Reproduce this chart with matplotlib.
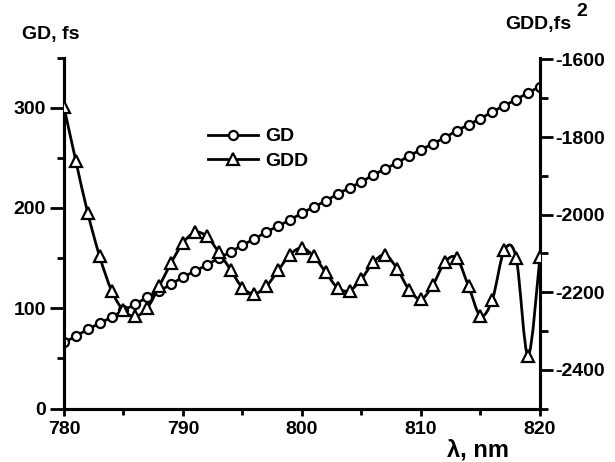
import numpy as np
import matplotlib
matplotlib.use("Agg")
import matplotlib.pyplot as plt
from matplotlib.path import Path
from matplotlib.patches import PathPatch
from matplotlib.lines import Line2D
from matplotlib.ticker import MultipleLocator

plt.rcParams['font.family'] = ['Liberation Sans', 'DejaVu Sans']
plt.rcParams['font.weight'] = 'bold'
plt.rcParams['axes.unicode_minus'] = False

# wavelength, nm
wl = list(range(780, 821))

# group delay, fs
gd = [66, 72, 79, 85, 91, 98, 104, 111, 117, 124,
      131, 137, 143, 150, 156, 163, 169, 176, 182, 188,
      195, 201, 207, 214, 220, 226, 233, 239, 245, 252,
      258, 264, 270, 277, 283, 289, 296, 302, 308, 315, 321]

# group delay dispersion, fs^2
gdd = [-1722, -1862, -1996, -2108, -2196, -2247, -2262, -2241, -2185, -2125,
       -2073, -2046, -2056, -2097, -2142, -2189, -2204, -2185, -2144, -2103,
       -2086, -2108, -2149, -2189, -2196, -2166, -2123, -2104, -2140, -2194,
       -2218, -2182, -2123, -2112, -2185, -2261, -2219, -2092, -2112, -2364, -2109]


def smooth_path(x, y):
    # catmull-rom through the points, drawn as bezier segments
    p = np.column_stack([x, y]).astype(float)
    p = np.vstack([p[0], p, p[-1]])
    verts = [p[1]]
    codes = [Path.MOVETO]
    for i in range(1, len(p) - 2):
        c1 = p[i] + (p[i + 1] - p[i - 1]) / 6
        c2 = p[i + 1] - (p[i + 2] - p[i]) / 6
        verts += [c1, c2, p[i + 1]]
        codes += [Path.CURVE4] * 3
    return Path(verts, codes)


fig = plt.figure(figsize=(6.15, 4.62), dpi=100)
ax = fig.add_axes([0.104, 0.1158, 0.774, 0.7597])
ax2 = ax.twinx()

lw = 2.0
ax.plot(wl, gd, color='black', lw=lw, marker='o', ms=6.5,
        mfc='white', mec='black', mew=1.6, zorder=3)

ax2.add_patch(PathPatch(smooth_path(wl, gdd), fill=False, lw=lw,
                        edgecolor='black', zorder=3))
ax2.plot(wl, gdd, ls='none', marker='^', ms=8, mfc='white',
         mec='black', mew=1.6, zorder=4)

ax.set_xlim(780, 820)
ax.set_ylim(0, 350)
ax2.set_ylim(-2500, -1595)

ax.xaxis.set_major_locator(MultipleLocator(10))
ax.xaxis.set_minor_locator(MultipleLocator(5))
ax.yaxis.set_major_locator(MultipleLocator(100))
ax.yaxis.set_minor_locator(MultipleLocator(50))
ax2.yaxis.set_major_locator(MultipleLocator(200))
ax2.yaxis.set_minor_locator(MultipleLocator(100))

for a in (ax, ax2):
    for s in a.spines.values():
        s.set_linewidth(2.2)
    a.spines['top'].set_visible(False)

ax.tick_params(axis='x', which='major', length=5, width=2, pad=4, labelsize=14)
ax.tick_params(axis='x', which='minor', length=4, width=2)
ax.tick_params(axis='y', which='major', length=10, width=2, pad=3, labelsize=14)
ax.tick_params(axis='y', which='minor', length=5, width=2)
ax2.tick_params(axis='y', which='major', length=9, width=2, pad=2, labelsize=14)
ax2.tick_params(axis='y', which='minor', length=6, width=2)

handles = [
    Line2D([], [], color='black', lw=lw, marker='o', ms=6.5, mfc='white', mew=1.6),
    Line2D([], [], color='black', lw=lw, marker='^', ms=8, mfc='white', mew=1.6),
]
ax.legend(handles, ['GD', 'GDD'], loc='upper left', bbox_to_anchor=(0.302, 0.80),
          frameon=False, borderpad=0, borderaxespad=0, handlelength=2.6,
          handletextpad=0.36, labelspacing=0.34, prop={'size': 14, 'weight': 'bold'})

fig.text(22 / 615, 1 - 35 / 462, 'GD, fs', ha='left', va='center', fontsize=14)
fig.text(505 / 615, 1 - 24 / 462, 'GDD,fs', ha='left', va='center', fontsize=14)
fig.text(576 / 615, 1 - 11 / 462, '2', ha='left', va='center', fontsize=14)
fig.text(478 / 615, 1 - 450 / 462, 'λ, nm', ha='center', va='center', fontsize=17)

fig.savefig('out.png', dpi=100)
